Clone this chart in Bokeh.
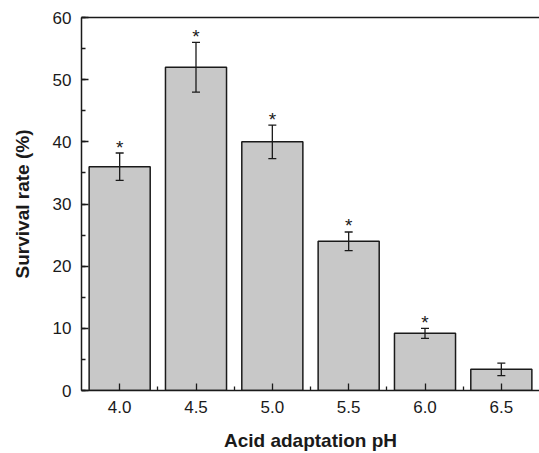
from bokeh.plotting import figure
from bokeh.models import (Range1d, FixedTicker, SingleIntervalTicker, LinearAxis,
                          NumeralTickFormatter, ColumnDataSource, Whisker, TeeHead)
from bokeh.core.properties import value
from bokeh.embed import file_html
from bokeh.resources import INLINE

ph = [4.0, 4.5, 5.0, 5.5, 6.0, 6.5]
survival = [36.0, 52.0, 40.0, 24.0, 9.2, 3.4]
error = [2.2, 4.0, 2.7, 1.5, 0.8, 1.0]
significant = [True, True, True, True, True, False]
x_minor = [4.25, 4.75, 5.25, 5.75, 6.25]

FONT = "Liberation Sans"

src = ColumnDataSource(dict(
    x=ph, top=survival,
    upper=[s + e for s, e in zip(survival, error)],
    lower=[s - e for s, e in zip(survival, error)],
))
star_src = ColumnDataSource(dict(
    x=[p for p, s in zip(ph, significant) if s],
    y=[v + e for v, e, s in zip(survival, error, significant) if s],
    t=["*" for s in significant if s],
))

p = figure(width=539, height=453, output_backend="svg", toolbar_location=None,
           x_range=Range1d(3.75, 6.75), y_range=Range1d(0, 60),
           x_axis_label="Acid adaptation pH", y_axis_label="Survival rate (%)",
           min_border_left=81, min_border_bottom=62, min_border_top=17, min_border_right=0)
p.outline_line_color = None
p.xgrid.visible = False
p.ygrid.visible = False
p.background_fill_color = "white"

p.vbar(x="x", top="top", width=0.4, bottom=0, source=src,
       fill_color="#c8c8c8", line_color="#1a1a1a", line_width=1.5)

w = Whisker(base="x", upper="upper", lower="lower", source=src, level="overlay",
            line_color="#1a1a1a", line_width=1.3,
            upper_head=TeeHead(size=8, line_color="#1a1a1a", line_width=1.3),
            lower_head=TeeHead(size=8, line_color="#1a1a1a", line_width=1.3))
p.add_layout(w)

p.text(x="x", y="y", text="t", source=star_src, text_align="center",
       text_baseline="middle", y_offset=-6, text_font=value(FONT),
       text_font_size="19px", text_color="#1a1a1a")

xa = p.xaxis[0]
xa.ticker = FixedTicker(ticks=ph, minor_ticks=x_minor)
xa.formatter = NumeralTickFormatter(format="0.0")
ya = p.yaxis[0]
ya.ticker = SingleIntervalTicker(interval=10, num_minor_ticks=2)

for ax in (xa, ya):
    ax.axis_line_color = "#1a1a1a"
    ax.axis_line_width = 1.5
    ax.major_tick_line_color = "#1a1a1a"
    ax.minor_tick_line_color = "#1a1a1a"
    ax.major_tick_line_width = 1.3
    ax.minor_tick_line_width = 1.3
    ax.major_tick_in = 7
    ax.major_tick_out = 0
    ax.minor_tick_in = 4
    ax.minor_tick_out = 0
    ax.major_label_text_font = FONT
    ax.major_label_text_font_size = "17px"
    ax.major_label_text_color = "#1a1a1a"
    ax.axis_label_text_font = FONT
    ax.axis_label_text_font_size = "19px"
    ax.axis_label_text_font_style = "bold"
    ax.axis_label_text_color = "#1a1a1a"

xa.major_label_standoff = 10
xa.axis_label_standoff = 14
ya.major_label_standoff = 10
ya.axis_label_standoff = 17

top_ax = LinearAxis(ticker=FixedTicker(ticks=[]), major_label_text_font_size="0px",
                    major_tick_out=0, major_tick_in=0, minor_tick_out=0, minor_tick_in=0,
                    axis_line_color="#1a1a1a", axis_line_width=1.5)
p.add_layout(top_ax, "above")

open("out.html", "w").write(file_html(p, INLINE))
